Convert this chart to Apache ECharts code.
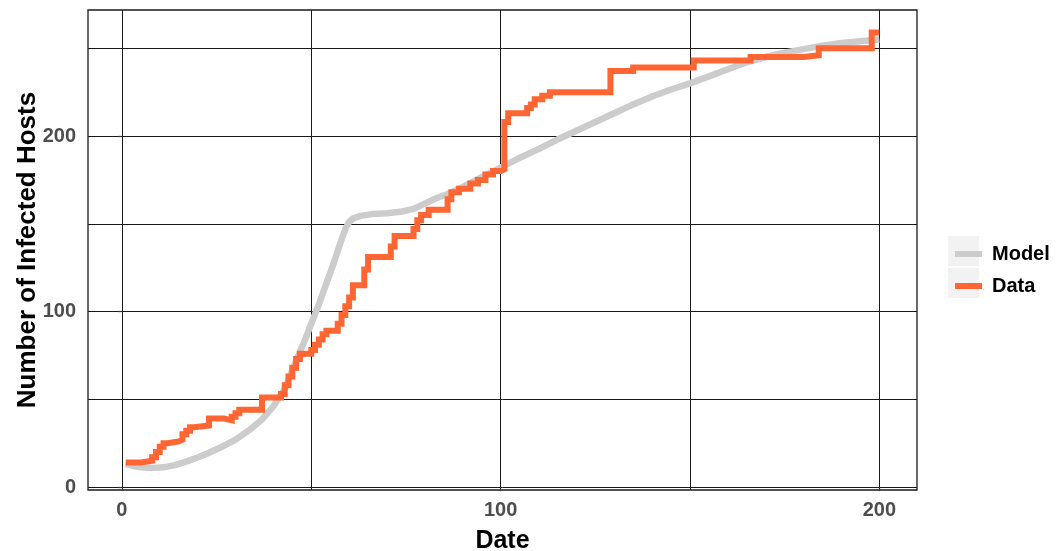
<!DOCTYPE html>
<html>
<head>
<meta charset="utf-8">
<title>Number of Infected Hosts</title>
<script src="https://cdn.jsdelivr.net/npm/echarts@6/dist/echarts.min.js"></script>
<style>
  html, body { margin: 0; padding: 0; background: #ffffff; }
  #chart { width: 1061px; height: 551px; }
</style>
</head>
<body>
<div id="chart"></div>
<script>
// Model curve (day, hosts)
const modelDays  = [1, 3, 5, 8, 11, 14, 17, 20, 23, 26, 30, 34, 37, 40, 43, 46, 48, 50, 52, 54, 56, 58, 59, 60, 61, 63, 66, 70, 74, 77, 80, 83, 86, 90, 95, 100, 105, 110, 115, 120, 125, 130, 135, 140, 145, 150, 155, 160, 165, 170, 175, 180, 185, 190, 195, 200];
const modelHosts = [13, 12, 11.2, 10.8, 11.2, 12.5, 14.5, 16.8, 19.5, 22.5, 27, 33, 38.5, 46, 56, 72, 82, 93, 104, 116, 128, 141, 147, 151, 153, 154.5, 155.5, 156, 157, 158.5, 161.5, 164.5, 167, 171, 176.5, 182, 187.5, 192.5, 198, 203, 208, 213, 218, 222.5, 226.5, 230, 234, 238, 242, 245, 247.5, 249.5, 251.5, 253, 254, 255];

// Observed counts (day, hosts), each value holds until the next day listed
const dataDays  = [1, 5, 8, 9, 10, 11, 12, 15, 16, 17, 18, 19, 23, 27, 29, 30, 31, 37, 42, 43, 44, 45, 46, 47, 50, 51, 52, 53, 54, 57, 58, 59, 60, 61, 64, 65, 71, 72, 77, 78, 79, 81, 86, 87, 89, 92, 94, 96, 98, 100, 101, 102, 107, 108, 109, 111, 113, 129, 135, 151, 166, 180, 184, 198, 200];
const dataHosts = [14, 15, 17, 20, 23, 25, 26, 27, 30, 32, 34, 35, 39, 38, 40, 42, 44, 51, 53, 58, 63, 68, 73, 76, 78, 81, 84, 87, 89, 93, 98, 103, 108, 115, 124, 131, 137, 143, 147, 152, 155, 158, 164, 168, 170, 173, 175, 178, 180, 181, 208, 213, 216, 218, 221, 223, 225, 237, 239, 243, 245, 246, 250, 259, 259];

// Axis breaks
const xGridValues  = [0, 50, 100, 150, 200];
const xLabelValues = [0, 100, 200];
const yGridValues  = [0, 50, 100, 150, 200, 250];
const yLabelValues = [0, 100, 200];

const FONT = "'Liberation Sans', Arial, sans-serif";
const X_MIN = -8.95, X_MAX = 209.95;
const Y_MIN = -1.7, Y_MAX = 271.8;

const zip = (xs, ys) => xs.map((x, i) => [x, ys[i]]);

const chart = echarts.init(document.getElementById('chart'), null, { renderer: 'canvas' });

chart.setOption({
  backgroundColor: '#ffffff',
  animation: false,
  grid: {
    left: 88, top: 10, width: 829, height: 480,
    outerBoundsMode: 'none',
    containLabel: false,
    show: true, borderColor: '#1a1a1a', borderWidth: 1.3,
    backgroundColor: 'transparent'
  },
  legend: {
    orient: 'vertical',
    left: 950, top: 239,
    itemWidth: 27, itemHeight: 6, itemGap: 12,
    icon: 'rect',
    data: ['Model', 'Data'],
    textStyle: {
      fontFamily: FONT, fontSize: 20, fontWeight: 'bold', color: '#000',
      lineHeight: 20, padding: [0, 0, 0, 5]
    }
  },
  graphic: [
    { type: 'rect', left: 948, top: 236, z: -1, shape: { width: 31, height: 30 }, style: { fill: '#f2f2f2' } },
    { type: 'rect', left: 948, top: 268, z: -1, shape: { width: 31, height: 30 }, style: { fill: '#f2f2f2' } }
  ],
  xAxis: [
    {
      type: 'value', min: X_MIN, max: X_MAX,
      name: 'Date', nameLocation: 'middle', nameGap: 39, nameMoveOverlap: false,
      nameTextStyle: { fontFamily: FONT, fontSize: 25, fontWeight: 'bold', color: '#000' },
      axisLine: { show: false },
      axisTick: { show: false, customValues: xGridValues },
      axisLabel: {
        customValues: xLabelValues, margin: 10,
        fontFamily: FONT, fontSize: 20, fontWeight: 'bold', color: '#4d4d4d'
      },
      splitLine: { show: true, lineStyle: { color: '#1a1a1a', width: 1 } }
    },
    {
      type: 'value', min: X_MIN, max: X_MAX, position: 'bottom',
      axisLine: { show: false },
      axisTick: { show: true, customValues: xLabelValues, length: 4, lineStyle: { color: '#333', width: 1.2 } },
      axisLabel: { show: false },
      splitLine: { show: false }
    }
  ],
  yAxis: [
    {
      type: 'value', min: Y_MIN, max: Y_MAX,
      name: 'Number of Infected Hosts', nameLocation: 'middle', nameGap: 47, nameRotate: 90,
      nameMoveOverlap: false,
      nameTextStyle: { fontFamily: FONT, fontSize: 26, fontWeight: 'bold', color: '#000' },
      axisLine: { show: false },
      axisTick: { show: false, customValues: yGridValues },
      axisLabel: {
        customValues: yLabelValues, margin: 12,
        fontFamily: FONT, fontSize: 20, fontWeight: 'bold', color: '#4d4d4d'
      },
      splitLine: { show: true, lineStyle: { color: '#1a1a1a', width: 1 } }
    },
    {
      type: 'value', min: Y_MIN, max: Y_MAX, position: 'left',
      axisLine: { show: false },
      axisTick: { show: true, customValues: yLabelValues, length: 4, lineStyle: { color: '#333', width: 1.2 } },
      axisLabel: { show: false },
      splitLine: { show: false }
    }
  ],
  series: [
    {
      name: 'Model', type: 'line', xAxisIndex: 0, yAxisIndex: 0,
      data: zip(modelDays, modelHosts),
      showSymbol: false, symbol: 'none',
      lineStyle: { color: '#cccccc', width: 6.5, cap: 'butt', join: 'round' },
      itemStyle: { color: '#cccccc' },
      z: 2
    },
    {
      name: 'Data', type: 'line', xAxisIndex: 0, yAxisIndex: 0,
      data: zip(dataDays, dataHosts),
      step: 'end',
      showSymbol: false, symbol: 'none',
      lineStyle: { color: '#ff6633', width: 6, cap: 'butt', join: 'miter' },
      itemStyle: { color: '#ff6633' },
      z: 3
    }
  ]
});
</script>
</body>
</html>
